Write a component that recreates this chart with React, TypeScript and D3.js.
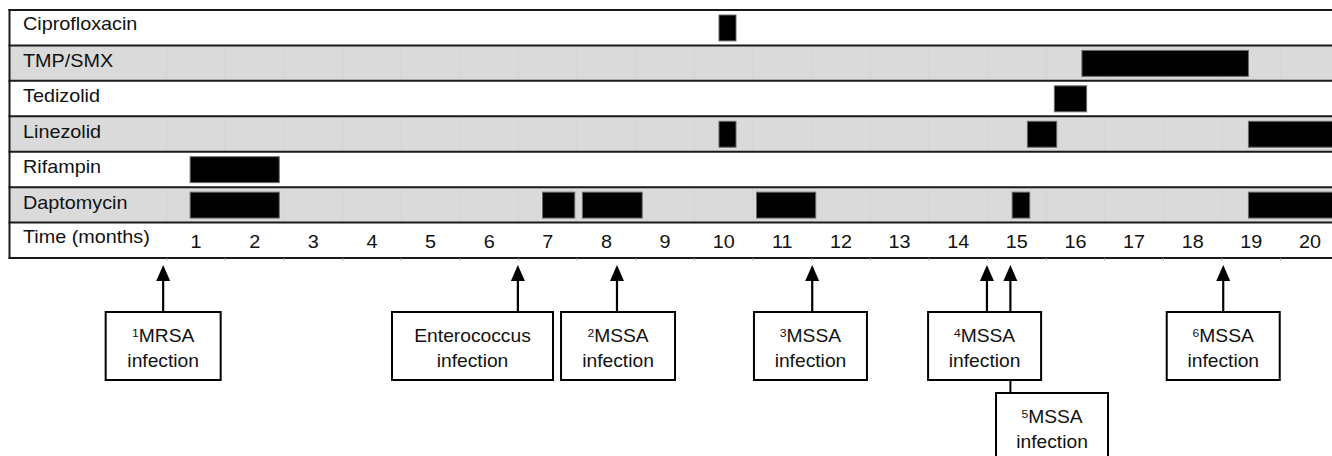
import React from "react";
import * as d3 from "d3";

// ---------- data ----------
const drugs = ["Ciprofloxacin", "TMP/SMX", "Tedizolid", "Linezolid", "Rifampin", "Daptomycin"];
const timeLabel = "Time (months)";
const monthTicks = [1, 2, 3, 4, 5, 6, 7, 8, 9, 10, 11, 12, 13, 14, 15, 16, 17, 18, 19, 20];

// treatment courses [start month, end month]
const ciprofloxacinCourses = [[9.92, 10.21]];
const tmpSmxCourses = [[16.11, 18.95]];
const tedizolidCourses = [[15.64, 16.19]];
const linezolidCourses = [[9.92, 10.21], [15.18, 15.68], [18.95, 21.5]];
const rifampinCourses = [[0.9, 2.42]];
const daptomycinCourses = [[0.9, 2.42], [6.91, 7.46], [7.59, 8.61], [10.56, 11.57], [14.92, 15.22], [18.95, 21.5]];

const coursesByDrug: Record<string, number[][]> = {
  "Ciprofloxacin": ciprofloxacinCourses,
  "TMP/SMX": tmpSmxCourses,
  "Tedizolid": tedizolidCourses,
  "Linezolid": linezolidCourses,
  "Rifampin": rifampinCourses,
  "Daptomycin": daptomycinCourses,
};

// infection events
const eventMonths = [0.44, 6.49, 8.18, 11.51, 14.49, 14.89, 18.52];
const eventSup = ["1", "", "2", "3", "4", "5", "6"];
const eventNames = ["MRSA", "Enterococcus", "MSSA", "MSSA", "MSSA", "MSSA", "MSSA"];
// annotation box placement (centre in months, stack level)
const boxCenterMonths = [0.44, 5.716, 8.198, 11.48, 14.45, 15.6, 18.52];
const boxLevels = [0, 0, 0, 0, 0, 1, 0];
const boxWidths = [115, 161, 114, 113, 113, 112, 113];

// ---------- layout ----------
const W = 1332;
const H = 456;
const tableTop = 10;
const tableBottom = 258;
const tableLeft = 9.5;
const gray = "#dadada";
const lineColor = "#1a1a1a";
const font = "'Liberation Sans', Arial, Helvetica, sans-serif";
const sx = 1.1;

const boxTop = [312, 393];
const boxH = [68, 75];
const arrowTip = 265;
const headLen = 16;
const headHalf = 7;

export default function App() {
  const x = d3.scaleLinear().domain([1, 20]).range([196, 1310]);
  const rows = [...drugs, timeLabel];
  const y = d3.scaleBand<string>().domain(rows).range([tableTop, tableBottom]);
  const bw = y.bandwidth();
  const halfMonths = d3.range(0.5, 21, 1);

  const T = (props: { x: number; y: number; size: number; anchor?: string; children: React.ReactNode }) => (
    <text
      transform={`translate(${props.x},${props.y}) scale(${sx},1)`}
      fontSize={props.size}
      fontFamily={font}
      textAnchor={props.anchor || "start"}
      fill="#111"
    >
      {props.children}
    </text>
  );

  return (
    <svg width={W} height={H} style={{ position: "absolute", left: 0, top: 0, display: "block" }}>
      <rect x={0} y={0} width={W} height={H} fill="#fff" />
      {/* row backgrounds */}
      {rows.map((r, i) => (
        <rect key={r} x={tableLeft} y={y(r)!} width={W - tableLeft} height={bw} fill={i % 2 === 1 ? gray : "#fff"} />
      ))}
      {/* faint column lines in gray rows */}
      {rows.map((r, i) =>
        i % 2 === 1
          ? halfMonths.map((m) => (
              <line key={r + m} x1={x(m)} x2={x(m)} y1={y(r)!} y2={y(r)! + bw} stroke="#d3d3d3" strokeWidth={1} />
            ))
          : null
      )}
      {/* bars */}
      {drugs.map((d) =>
        coursesByDrug[d].map(([s, e], j) => (
          <rect
            key={d + j}
            x={x(s)}
            y={y(d)! + 5}
            width={x(e) - x(s)}
            height={bw - 9.5}
            fill="#000"
            stroke="#6a6a6a"
            strokeWidth={1}
          />
        ))
      )}
      {/* horizontal lines */}
      {[...rows.map((r) => y(r)!), tableBottom].map((yy, i) => (
        <line key={i} x1={tableLeft - 1} x2={W} y1={yy} y2={yy} stroke={lineColor} strokeWidth={2} />
      ))}
      <line x1={tableLeft} x2={tableLeft} y1={tableTop - 1} y2={tableBottom + 1} stroke={lineColor} strokeWidth={2} />
      {/* small ticks under bottom border */}
      {halfMonths.map((m) => (
        <line key={"t" + m} x1={x(m)} x2={x(m)} y1={tableBottom} y2={tableBottom + 2.5} stroke="#999" strokeWidth={1} />
      ))}
      {/* row labels */}
      {rows.map((r, i) => (
        <T key={"l" + r} x={23} y={y(r)! + (i === 0 ? 19.5 : i === 6 ? 20.5 : 21.5)} size={18}>
          {r}
        </T>
      ))}
      {/* month numbers */}
      {monthTicks.map((m) => (
        <T key={"m" + m} x={x(m)} y={248} size={18} anchor="middle">
          {m}
        </T>
      ))}
      {/* arrows */}
      {eventMonths.map((m, i) => {
        const ax = x(m);
        const base = boxTop[0];
        return (
          <g key={"a" + i}>
            <line x1={ax} x2={ax} y1={base} y2={arrowTip + headLen - 1} stroke="#000" strokeWidth={2.2} />
            <path
              d={`M${ax},${arrowTip} L${ax - headHalf},${arrowTip + headLen} L${ax + headHalf},${arrowTip + headLen} Z`}
              fill="#000"
            />
            {boxLevels[i] === 1 ? (
              <line x1={ax} x2={ax} y1={boxTop[0] + boxH[0]} y2={boxTop[1]} stroke="#000" strokeWidth={2} />
            ) : null}
          </g>
        );
      })}
      {/* annotation boxes */}
      {eventNames.map((n, i) => {
        const cx = x(boxCenterMonths[i]);
        const lvl = boxLevels[i];
        const top = boxTop[lvl];
        const w = boxWidths[i];
        return (
          <g key={"b" + i}>
            <rect x={cx - w / 2} y={top} width={w} height={boxH[lvl]} fill="#fff" stroke="#000" strokeWidth={2} />
            <text
              transform={`translate(${cx},${top + 29.5}) scale(${sx},1)`}
              fontSize={17.5}
              fontFamily={font}
              textAnchor="middle"
              fill="#111"
            >
              {eventSup[i] ? (
                <tspan fontSize={11} dy={-5}>
                  {eventSup[i]}
                </tspan>
              ) : null}
              <tspan dy={eventSup[i] ? 5 : 0}>{n}</tspan>
            </text>
            <T x={cx} y={top + 55} size={17.5} anchor="middle">
              infection
            </T>
          </g>
        );
      })}
    </svg>
  );
}
